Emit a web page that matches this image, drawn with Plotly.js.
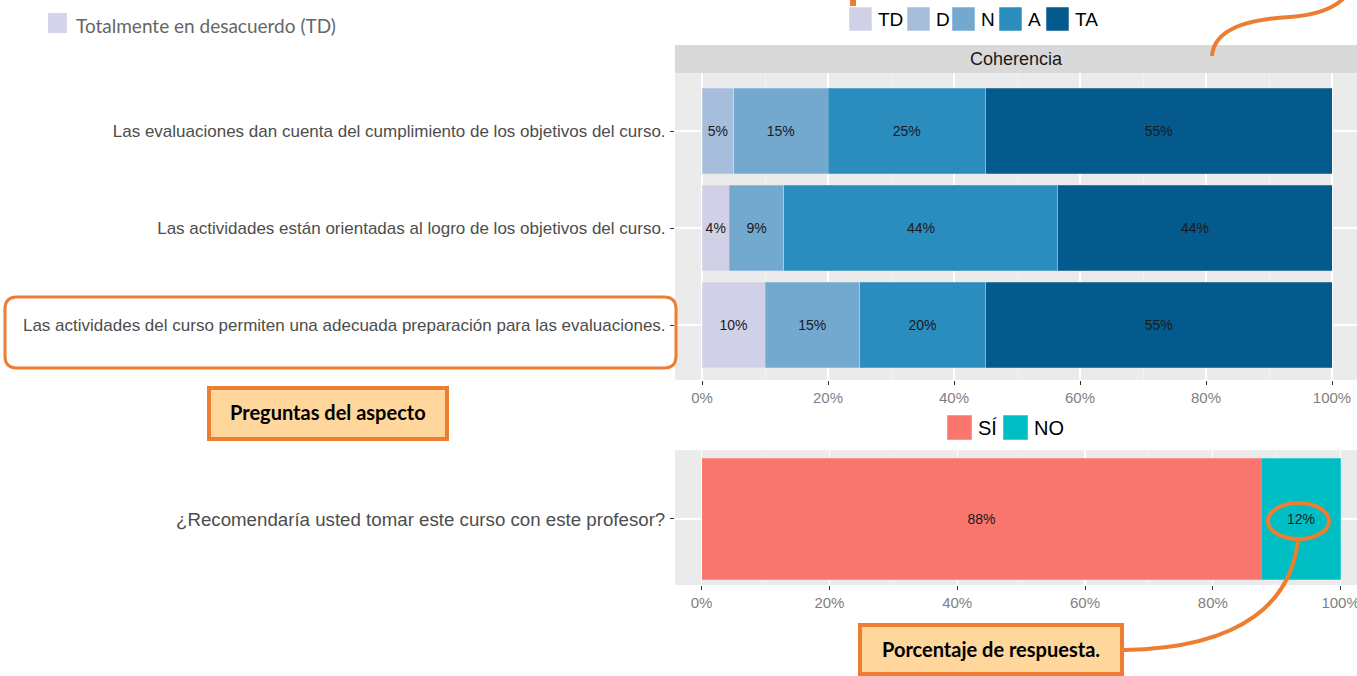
<!DOCTYPE html>
<html>
<head>
<meta charset="utf-8">
<script src="https://cdn.plot.ly/plotly-3.0.1.min.js"></script>
<style>html,body{margin:0;padding:0;background:#fff;}#chart{width:1357px;height:676px;}</style>
</head>
<body>
<div id="chart"></div>
<script>
// ---------- DATA ----------
const questions = [
  "Las evaluaciones dan cuenta del cumplimiento de los objetivos del curso.",
  "Las actividades están orientadas al logro de los objetivos del curso.",
  "Las actividades del curso permiten una adecuada preparación para las evaluaciones."
];
const levels = ["TD", "D", "N", "A", "TA"];
const levelColors = ["#d0d1e6", "#a6bddb", "#74a9cf", "#2b8cbe", "#045a8d"];
const valTD = [0, 4.35, 10];
const valD  = [5, 0, 0];
const valN  = [15, 8.65, 15];
const valA  = [25, 43.5, 20];
const valTA = [55, 43.5, 55];
const aspectTitle = "Coherencia";

const recQuestion = ["¿Recomendaría usted tomar este curso con este profesor?"];
const recLevels = ["SÍ", "NO"];
const recColors = ["#F8766D", "#00BFC4"];
const valSI = [87.6];
const valNO = [12.4];

const xTickVals = [0, 20, 40, 60, 80, 100];
const xTickText = ["0%", "20%", "40%", "60%", "80%", "100%"];

const legendTopNote = "Totalmente en desacuerdo (TD)";
const calloutQuestions = "Preguntas del aspecto";
const calloutPercent = "Porcentaje de respuesta.";

// ---------- HELPERS ----------
const W = 1357, H = 676;
const X = p => p / W;
const Y = p => 1 - p / H;
const pct = v => v > 0 ? Math.round(v) + "%" : "";
const ORANGE = "#ED7D31";
const PEACH = "#FFD69B";
const SANS = "Liberation Sans, Arial, sans-serif";

const topSeries = [valTD, valD, valN, valA, valTA];
const traces = [];
levels.forEach((lv, i) => {
  traces.push({
    type: "bar", orientation: "h", name: lv,
    x: topSeries[i], y: questions,
    xaxis: "x", yaxis: "y",
    width: 0.88,
    marker: {color: levelColors[i], line: {color: "rgba(255,255,255,0.35)", width: 0.6}},
    text: topSeries[i].map(pct), textposition: "inside", insidetextanchor: "middle",
    textangle: 0, constraintext: "none",
    textfont: {family: SANS, size: 14, color: "#1a1a1a"},
    hoverinfo: "skip", showlegend: false
  });
});
const recSeries = [valSI, valNO];
recLevels.forEach((lv, i) => {
  traces.push({
    type: "bar", orientation: "h", name: lv,
    x: recSeries[i], y: recQuestion,
    xaxis: "x2", yaxis: "y2",
    width: 0.9,
    marker: {color: recColors[i], line: {color: "rgba(255,255,255,0.35)", width: 0.6}},
    text: recSeries[i].map(pct), textposition: "inside", insidetextanchor: "middle",
    textangle: 0, constraintext: "none",
    textfont: {family: SANS, size: 14, color: "#1a1a1a"},
    hoverinfo: "skip", showlegend: false
  });
});

// ---------- AXES ----------
const tickFont = {family: SANS, size: 15, color: "#7f7f7f"};
const catFont = {family: SANS, size: 17, color: "#4d4d4d"};
const xCommon = {
  tickmode: "array", tickvals: xTickVals, ticktext: xTickText,
  showgrid: true, gridcolor: "#ffffff", gridwidth: 1.2,
  minor: {tickmode: "linear", tick0: 10, dtick: 20, showgrid: true, gridcolor: "#f6f6f6", gridwidth: 0.6, ticks: ""},
  zeroline: false, showline: false,
  ticks: "outside", ticklen: 4, tickcolor: "#333333", tickwidth: 1,
  tickfont: tickFont, ticklabeloverflow: "allow", fixedrange: true
};
const yCommon = {
  type: "category", categoryorder: "array",
  showgrid: true, gridcolor: "#ffffff", gridwidth: 1.2,
  zeroline: false, showline: false,
  ticks: "outside", ticklen: 4, tickcolor: "#333333", tickwidth: 1,
  tickfont: catFont, ticklabelstandoff: 1, automargin: false, fixedrange: true
};

const layout = {
  width: W, height: H,
  margin: {l: 0, r: 0, t: 0, b: 0},
  paper_bgcolor: "#ffffff", plot_bgcolor: "#ebebeb",
  barmode: "stack", bargap: 0,
  font: {family: SANS},
  xaxis: Object.assign({}, xCommon, {domain: [X(675), 1], range: [-(702 - 675) / 6.3, (1357 - 702) / 6.3], anchor: "y"}),
  yaxis: Object.assign({}, yCommon, {domain: [Y(380), Y(73)], anchor: "x",
    categoryarray: questions.slice().reverse(), range: [-0.567, 2.598]}),
  xaxis2: Object.assign({}, xCommon, {domain: [X(675), 1], range: [-(701.6 - 675) / 6.39, (1357 - 701.6) / 6.39], anchor: "y2"}),
  yaxis2: Object.assign({}, yCommon, {domain: [Y(585), Y(450)], anchor: "x2",
    categoryarray: recQuestion, range: [-0.489, 0.511],
    tickfont: {family: SANS, size: 18.7, color: "#4d4d4d"}}),
  shapes: [], annotations: []
};

// strip
layout.shapes.push({type: "rect", xref: "paper", yref: "paper", x0: X(675), x1: X(1357), y0: Y(73), y1: Y(45),
  fillcolor: "#d9d9d9", line: {width: 0}, layer: "below"});
layout.annotations.push({xref: "paper", yref: "paper", x: X(1017), y: Y(59), text: aspectTitle, showarrow: false,
  xanchor: "center", yanchor: "middle", font: {family: SANS, size: 18, color: "#1a1a1a"}});

// top legend (TD D N A TA)
const legSq = [849, 907, 952, 999, 1046];
levels.forEach((lv, i) => {
  layout.shapes.push({type: "rect", xref: "paper", yref: "paper", x0: X(legSq[i]), x1: X(legSq[i] + 23),
    y0: Y(31), y1: Y(7), fillcolor: levelColors[i], line: {color: "#ffffff", width: 0.5}});
  layout.annotations.push({xref: "paper", yref: "paper", x: X(legSq[i] + 27), y: Y(19.5), text: lv,
    showarrow: false, xanchor: "left", yanchor: "middle",
    font: {family: SANS, size: 19, color: "#000000"}});
});
// bottom legend (SÍ NO)
const recSq = [947, 1003];
recLevels.forEach((lv, i) => {
  layout.shapes.push({type: "rect", xref: "paper", yref: "paper", x0: X(recSq[i]), x1: X(recSq[i] + 25),
    y0: Y(440), y1: Y(415), fillcolor: recColors[i], line: {color: "#ffffff", width: 0.5}});
  layout.annotations.push({xref: "paper", yref: "paper", x: X(recSq[i] + 29), y: Y(428), text: lv,
    showarrow: false, xanchor: "left", yanchor: "middle",
    font: {family: SANS, size: 20, color: "#000000"}});
});

// cropped legend note top-left
layout.shapes.push({type: "rect", xref: "paper", yref: "paper", x0: X(48), x1: X(67), y0: Y(33), y1: Y(13),
  fillcolor: "#d4d4ea", line: {width: 0}});
layout.annotations.push({xref: "paper", yref: "paper", x: X(74), y: Y(25), text: legendTopNote, showarrow: false,
  xanchor: "left", yanchor: "middle", font: {family: "Lato, Open Sans, sans-serif", size: 19, color: "#666666"}});

// orange rounded rect around 3rd question
function rrect(x0, y0, x1, y1, r) {
  return `M ${X(x0 + r)} ${Y(y0)} L ${X(x1 - r)} ${Y(y0)} Q ${X(x1)} ${Y(y0)} ${X(x1)} ${Y(y0 + r)} ` +
         `L ${X(x1)} ${Y(y1 - r)} Q ${X(x1)} ${Y(y1)} ${X(x1 - r)} ${Y(y1)} L ${X(x0 + r)} ${Y(y1)} ` +
         `Q ${X(x0)} ${Y(y1)} ${X(x0)} ${Y(y1 - r)} L ${X(x0)} ${Y(y0 + r)} Q ${X(x0)} ${Y(y0)} ${X(x0 + r)} ${Y(y0)} Z`;
}
layout.shapes.push({type: "path", xref: "paper", yref: "paper", path: rrect(5, 297, 676, 368, 12),
  line: {color: ORANGE, width: 3}, fillcolor: "rgba(0,0,0,0)"});

// callout boxes
layout.shapes.push({type: "rect", xref: "paper", yref: "paper", x0: X(209), x1: X(447), y0: Y(439), y1: Y(388),
  fillcolor: PEACH, line: {color: ORANGE, width: 4}});
layout.annotations.push({xref: "paper", yref: "paper", x: X(328), y: Y(412), text: "<b>" + calloutQuestions + "</b>",
  showarrow: false, xanchor: "center", yanchor: "middle", font: {family: "Lato, sans-serif", size: 20, color: "#000000"}});
layout.shapes.push({type: "rect", xref: "paper", yref: "paper", x0: X(860), x1: X(1122), y0: Y(674), y1: Y(625),
  fillcolor: PEACH, line: {color: ORANGE, width: 4}});
layout.annotations.push({xref: "paper", yref: "paper", x: X(991), y: Y(649), text: "<b>" + calloutPercent + "</b>",
  showarrow: false, xanchor: "center", yanchor: "middle", font: {family: "Lato, sans-serif", size: 20, color: "#000000"}});

// ellipse around 12% and connector
layout.shapes.push({type: "circle", xref: "paper", yref: "paper", x0: X(1268), x1: X(1329), y0: Y(539), y1: Y(503),
  line: {color: ORANGE, width: 4}, fillcolor: "rgba(0,0,0,0)"});
layout.shapes.push({type: "path", xref: "paper", yref: "paper",
  path: `M ${X(1298)} ${Y(539)} C ${X(1292)} ${Y(600)} ${X(1245)} ${Y(648)} ${X(1124)} ${Y(650)}`,
  line: {color: ORANGE, width: 4}});
// top-right connector
layout.shapes.push({type: "path", xref: "paper", yref: "paper",
  path: `M ${X(1212)} ${Y(56)} C ${X(1214)} ${Y(28)} ${X(1250)} ${Y(19)} ${X(1290)} ${Y(17)} C ${X(1318)} ${Y(15)} ${X(1334)} ${Y(8)} ${X(1344)} ${Y(-2)}`,
  line: {color: ORANGE, width: 4}});
// small orange mark at top
layout.shapes.push({type: "rect", xref: "paper", yref: "paper", x0: X(850), x1: X(856), y0: Y(6), y1: Y(0),
  fillcolor: ORANGE, line: {width: 0}});

Plotly.newPlot("chart", traces, layout, {displayModeBar: false, staticPlot: true});
</script>
</body>
</html>
